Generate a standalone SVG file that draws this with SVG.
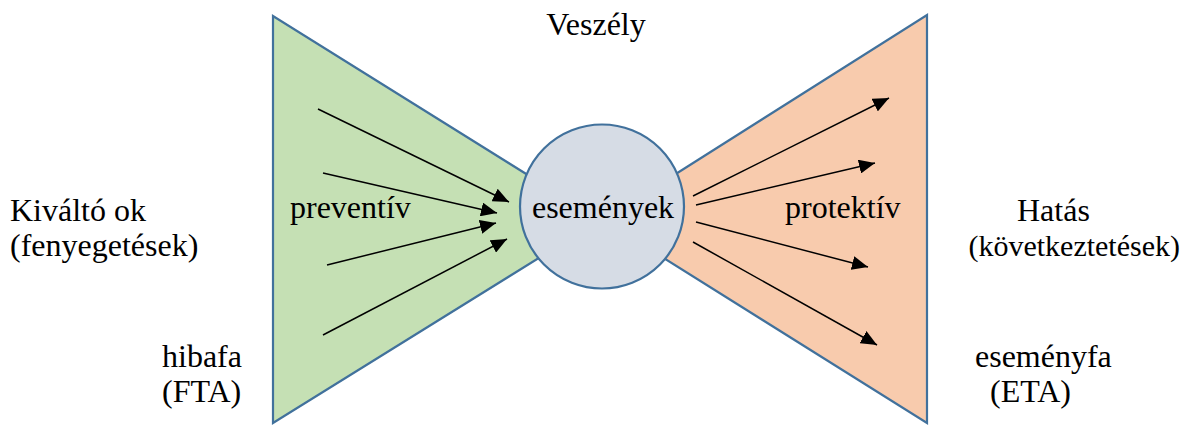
<svg xmlns="http://www.w3.org/2000/svg" width="1189" height="425" viewBox="0 0 1189 425">
<style>
text{font-family:"Liberation Serif","Times New Roman",serif;font-size:32px;fill:#000}
text.sm{font-size:30px}
.shape{stroke:#41719C;stroke-width:2.2}
.arr{stroke:#000;stroke-width:1.5;fill:none;marker-end:url(#ah)}
</style>
<defs>
<marker id="ah" markerUnits="userSpaceOnUse" markerWidth="18" markerHeight="14" refX="16" refY="7" orient="auto">
<path d="M0,0 L16,7 L0,14 Z" fill="#000"/>
</marker>
</defs>
<rect width="1189" height="425" fill="#fff"/>
<g id="left-wedge">
<polygon class="shape" points="273,16 273,423 600,220" fill="#C5E0B4"/>
<text x="290" y="218">preventív</text>
</g>
<g id="right-wedge">
<polygon class="shape" points="927,15 927,423 603,220" fill="#F8CBAD"/>
<text x="785" y="218">protektív</text>
</g>
<g id="event">
<circle class="shape" cx="602" cy="206.5" r="82" fill="#D6DCE5"/>
<text x="603" y="218" text-anchor="middle">események</text>
</g>
<g id="connectors">
<line class="arr" x1="318" y1="109" x2="509" y2="202"/>
<line class="arr" x1="323" y1="173" x2="497" y2="213"/>
<line class="arr" x1="327" y1="265" x2="496" y2="223"/>
<line class="arr" x1="323" y1="335" x2="507" y2="239"/>
<line class="arr" x1="693" y1="196" x2="889" y2="98"/>
<line class="arr" x1="696" y1="205" x2="875" y2="163"/>
<line class="arr" x1="696" y1="222" x2="868" y2="267"/>
<line class="arr" x1="693" y1="242" x2="877" y2="345"/>
</g>
<g id="labels">
<text x="596" y="35" text-anchor="middle">Veszély</text>
<text x="10" y="221">Kiváltó ok</text>
<text x="10" y="256">(fenyegetések)</text>
<text x="162" y="367">hibafa</text>
<text x="162" y="402">(FTA)</text>
<text x="1017" y="221">Hatás</text>
<text class="sm" x="1180" y="256" text-anchor="end">(következtetések)</text>
<text x="975" y="367">eseményfa</text>
<text x="990" y="402">(ETA)</text>
</g>
</svg>
